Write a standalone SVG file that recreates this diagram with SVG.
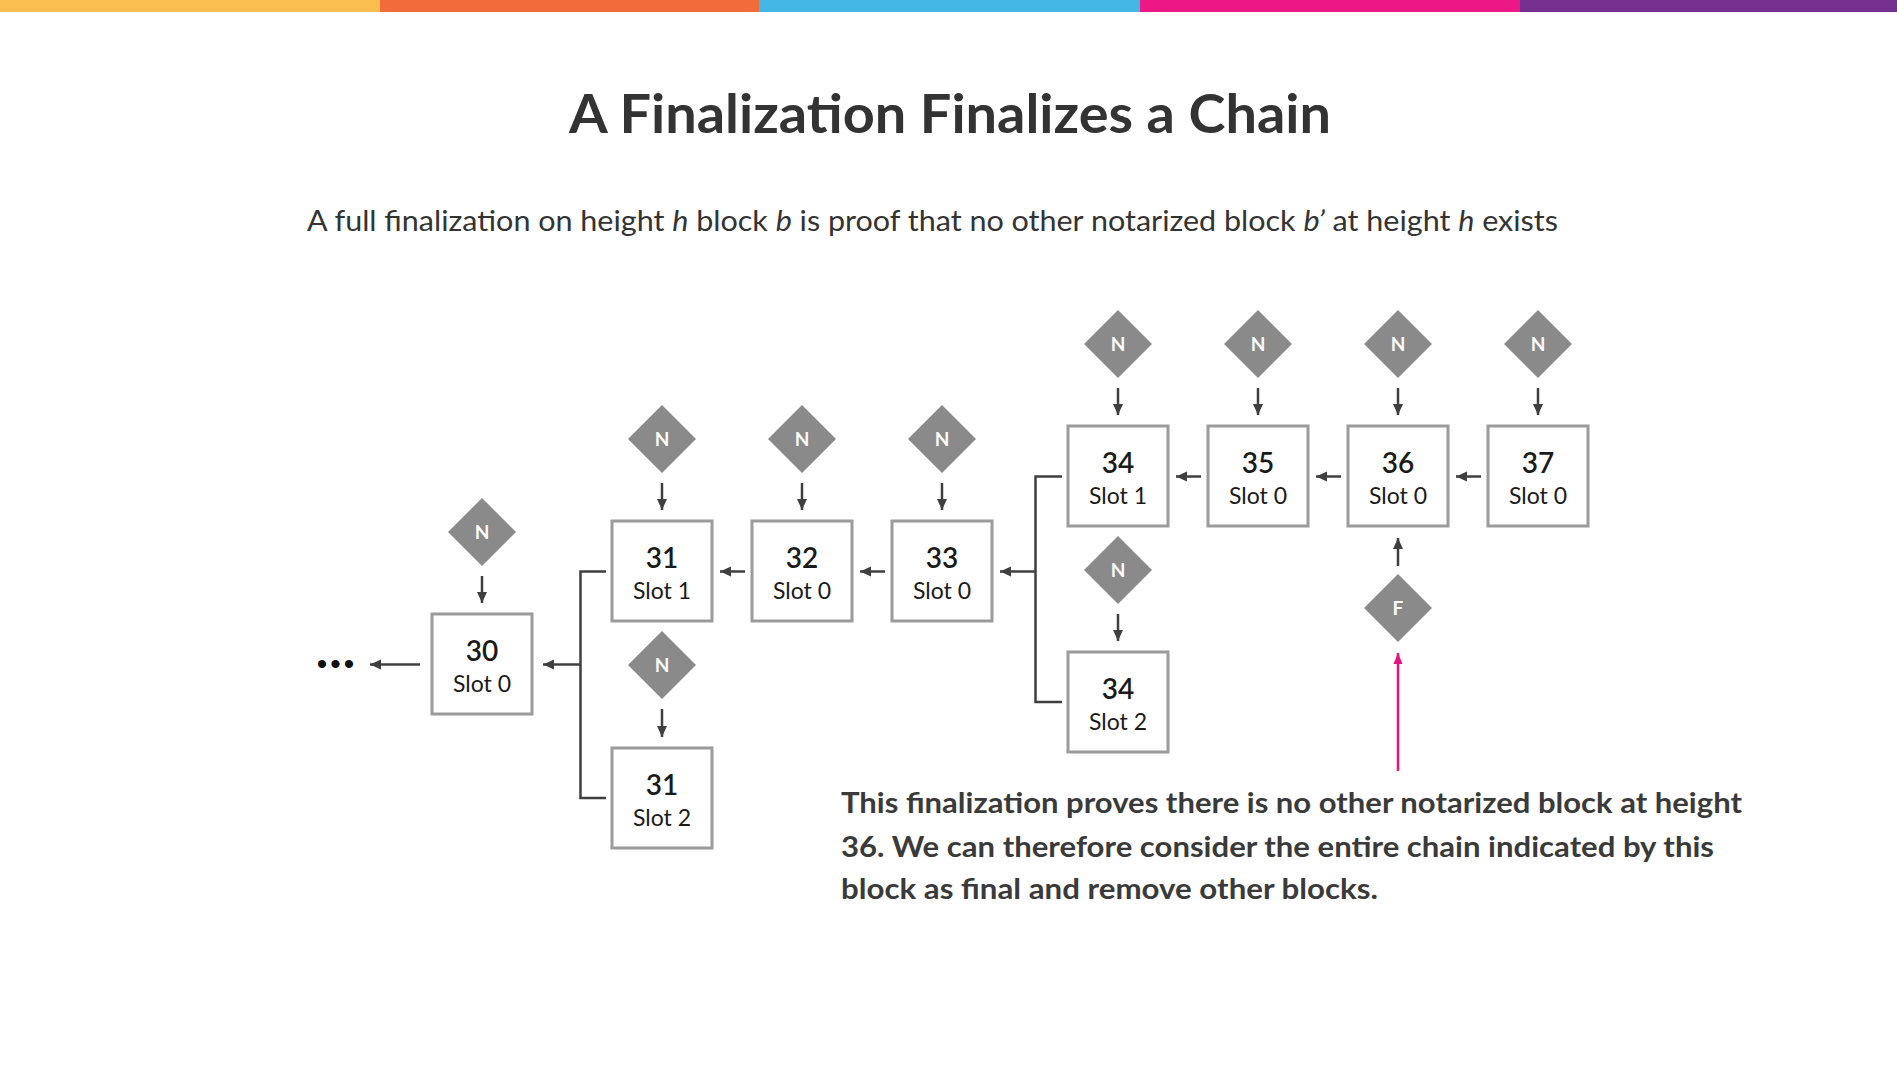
<svg xmlns="http://www.w3.org/2000/svg" width="1897" height="1071" viewBox="0 0 1897 1071">
<style>
  .box{fill:#fff;stroke:#9b9b9b;stroke-width:3}
  .dia{fill:#8a8a8a}
  .dl{font-family:Lato,"Liberation Sans",sans-serif;font-weight:700;font-size:19px;fill:#fff;text-anchor:middle}
  .num{font-family:Lato,"Liberation Sans",sans-serif;font-weight:600;font-size:28px;fill:#1a1a1a;text-anchor:middle}
  .slot{font-family:Lato,"Liberation Sans",sans-serif;font-size:23px;fill:#1a1a1a;text-anchor:middle}
  .con{fill:none;stroke:#3f3f3f;stroke-width:2.5}
  .arr{fill:none;stroke:#3f3f3f;stroke-width:2.5;marker-end:url(#ah)}
  .note{font-family:Lato,"Liberation Sans",sans-serif;font-weight:700;font-size:28px;fill:#3a3a3a}
</style>
<defs>
  <marker id="ah" markerUnits="userSpaceOnUse" markerWidth="12" markerHeight="12" refX="11" refY="6" orient="auto">
    <path d="M0,1 L11,6 L0,11 z" fill="#3f3f3f"/>
  </marker>
  <marker id="ahp" markerUnits="userSpaceOnUse" markerWidth="12" markerHeight="12" refX="11" refY="6" orient="auto">
    <path d="M0,1.5 L11,6 L0,10.5 z" fill="#e6127f"/>
  </marker>
</defs>
<rect width="1897" height="1071" fill="#fff"/>
<g id="topbar">
  <rect x="0" y="0" width="380" height="12" fill="#f9be4f"/>
  <rect x="380" y="0" width="379" height="12" fill="#f26b3a"/>
  <rect x="759" y="0" width="381" height="12" fill="#45b7e5"/>
  <rect x="1140" y="0" width="380" height="12" fill="#ec1885"/>
  <rect x="1520" y="0" width="377" height="12" fill="#76308f"/>
</g>
<text id="title" x="950" y="133" text-anchor="middle" textLength="762" lengthAdjust="spacingAndGlyphs" font-family="Lato,'Liberation Sans',sans-serif" font-weight="700" font-size="54" fill="#333">A Finalization Finalizes a Chain</text>
<text id="subtitle" x="307" y="231" textLength="1251" lengthAdjust="spacingAndGlyphs" font-family="Lato,'Liberation Sans',sans-serif" font-size="28" fill="#333">A full finalization on height <tspan font-style="italic">h</tspan> block <tspan font-style="italic">b</tspan> is proof that no other notarized block <tspan font-style="italic">b’</tspan> at height <tspan font-style="italic">h</tspan> exists</text>

<g id="connectors">
  <line class="arr" x1="1118" y1="388" x2="1118" y2="415"/>
  <line class="arr" x1="1258" y1="388" x2="1258" y2="415"/>
  <line class="arr" x1="1398" y1="388" x2="1398" y2="415"/>
  <line class="arr" x1="1538" y1="388" x2="1538" y2="415"/>
  <line class="arr" x1="662" y1="483" x2="662" y2="510"/>
  <line class="arr" x1="802" y1="483" x2="802" y2="510"/>
  <line class="arr" x1="942" y1="483" x2="942" y2="510"/>
  <line class="arr" x1="482" y1="576" x2="482" y2="603"/>
  <line class="arr" x1="662" y1="709" x2="662" y2="737"/>
  <line class="arr" x1="1118" y1="614" x2="1118" y2="641"/>
  <line class="arr" x1="1398" y1="566" x2="1398" y2="538"/>
  <line class="arr" x1="1201" y1="476.5" x2="1176" y2="476.5"/>
  <line class="arr" x1="1341" y1="476.5" x2="1316" y2="476.5"/>
  <line class="arr" x1="1481" y1="476.5" x2="1456" y2="476.5"/>
  <line class="arr" x1="745" y1="571.5" x2="720" y2="571.5"/>
  <line class="arr" x1="885" y1="571.5" x2="860" y2="571.5"/>
  <line class="arr" x1="420" y1="664.5" x2="370" y2="664.5"/>
  <path class="con" d="M606,571.5 H580.5 V798 H606"/>
  <line class="arr" x1="580.5" y1="664.5" x2="543" y2="664.5"/>
  <path class="con" d="M1062,476.5 H1035.5 V702 H1062"/>
  <line class="arr" x1="1035.5" y1="571.5" x2="1000" y2="571.5"/>
  <line x1="1398" y1="771" x2="1398" y2="653" stroke="#e6127f" stroke-width="2.5" marker-end="url(#ahp)"/>
</g>

<text id="ellipsis" x="337" y="674" text-anchor="middle" font-family="'Liberation Sans',sans-serif" font-size="30" letter-spacing="3" fill="#111">•••</text>

<g id="b30"><rect class="box" x="432" y="614" width="100" height="100"/><text class="num" x="482" y="661">30</text><text class="slot" x="482" y="692">Slot 0</text></g>
<g id="b31s1"><rect class="box" x="612" y="521" width="100" height="100"/><text class="num" x="662" y="568">31</text><text class="slot" x="662" y="599">Slot 1</text></g>
<g id="b31s2"><rect class="box" x="612" y="748" width="100" height="100"/><text class="num" x="662" y="795">31</text><text class="slot" x="662" y="826">Slot 2</text></g>
<g id="b32"><rect class="box" x="752" y="521" width="100" height="100"/><text class="num" x="802" y="568">32</text><text class="slot" x="802" y="599">Slot 0</text></g>
<g id="b33"><rect class="box" x="892" y="521" width="100" height="100"/><text class="num" x="942" y="568">33</text><text class="slot" x="942" y="599">Slot 0</text></g>
<g id="b34s1"><rect class="box" x="1068" y="426" width="100" height="100"/><text class="num" x="1118" y="473">34</text><text class="slot" x="1118" y="504">Slot 1</text></g>
<g id="b34s2"><rect class="box" x="1068" y="652" width="100" height="100"/><text class="num" x="1118" y="699">34</text><text class="slot" x="1118" y="730">Slot 2</text></g>
<g id="b35"><rect class="box" x="1208" y="426" width="100" height="100"/><text class="num" x="1258" y="473">35</text><text class="slot" x="1258" y="504">Slot 0</text></g>
<g id="b36"><rect class="box" x="1348" y="426" width="100" height="100"/><text class="num" x="1398" y="473">36</text><text class="slot" x="1398" y="504">Slot 0</text></g>
<g id="b37"><rect class="box" x="1488" y="426" width="100" height="100"/><text class="num" x="1538" y="473">37</text><text class="slot" x="1538" y="504">Slot 0</text></g>

<g id="n30"><path class="dia" d="M482,498 L516,532 L482,566 L448,532 z"/><text class="dl" x="482" y="539">N</text></g>
<g id="n31s1"><path class="dia" d="M662,405 L696,439 L662,473 L628,439 z"/><text class="dl" x="662" y="446">N</text></g>
<g id="n32"><path class="dia" d="M802,405 L836,439 L802,473 L768,439 z"/><text class="dl" x="802" y="446">N</text></g>
<g id="n33"><path class="dia" d="M942,405 L976,439 L942,473 L908,439 z"/><text class="dl" x="942" y="446">N</text></g>
<g id="n31s2"><path class="dia" d="M662,631 L696,665 L662,699 L628,665 z"/><text class="dl" x="662" y="672">N</text></g>
<g id="n34s1"><path class="dia" d="M1118,310 L1152,344 L1118,378 L1084,344 z"/><text class="dl" x="1118" y="351">N</text></g>
<g id="n35"><path class="dia" d="M1258,310 L1292,344 L1258,378 L1224,344 z"/><text class="dl" x="1258" y="351">N</text></g>
<g id="n36"><path class="dia" d="M1398,310 L1432,344 L1398,378 L1364,344 z"/><text class="dl" x="1398" y="351">N</text></g>
<g id="n37"><path class="dia" d="M1538,310 L1572,344 L1538,378 L1504,344 z"/><text class="dl" x="1538" y="351">N</text></g>
<g id="n34s2"><path class="dia" d="M1118,536 L1152,570 L1118,604 L1084,570 z"/><text class="dl" x="1118" y="577">N</text></g>
<g id="f36"><path class="dia" d="M1398,574 L1432,608 L1398,642 L1364,608 z"/><text class="dl" x="1398" y="615">F</text></g>

<g id="note">
  <text class="note" x="841" y="813" textLength="901" lengthAdjust="spacingAndGlyphs">This finalization proves there is no other notarized block at height</text>
  <text class="note" x="841" y="857" textLength="873" lengthAdjust="spacingAndGlyphs">36. We can therefore consider the entire chain indicated by this</text>
  <text class="note" x="841" y="899" textLength="537" lengthAdjust="spacingAndGlyphs">block as final and remove other blocks.</text>
</g>
</svg>
